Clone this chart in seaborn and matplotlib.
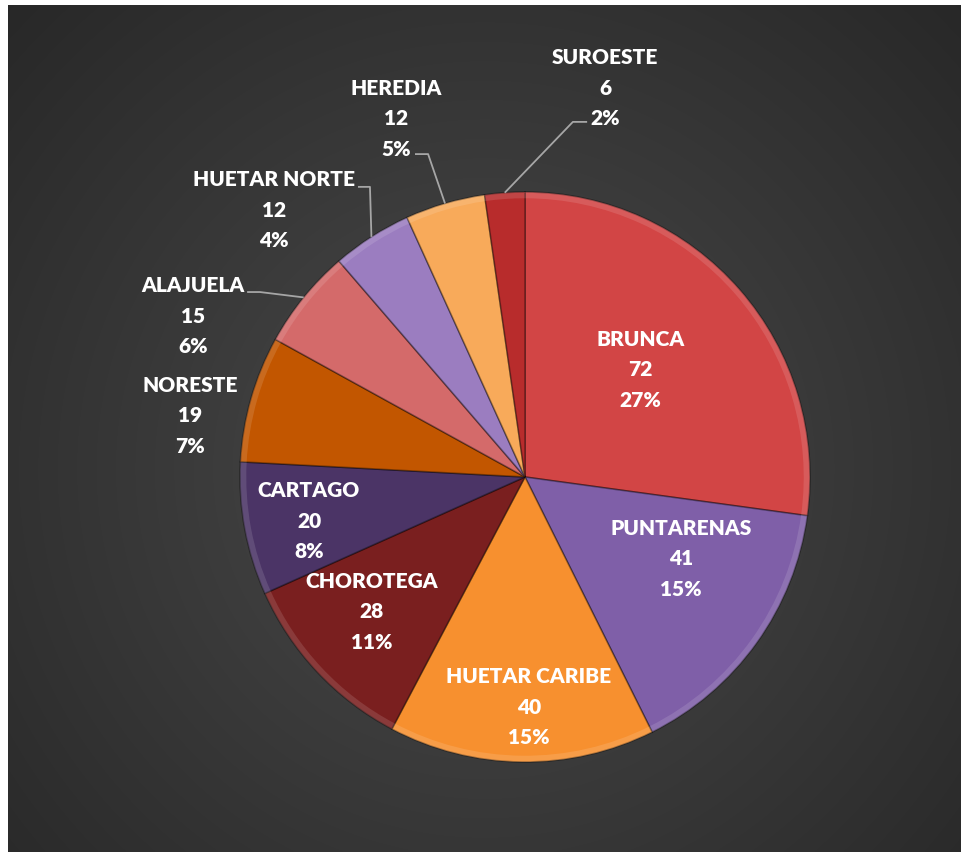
import numpy as np
import matplotlib
matplotlib.use("Agg")
import matplotlib.pyplot as plt
import seaborn as sns

# data (clockwise from 12 o'clock)
regions = ["BRUNCA", "PUNTARENAS", "HUETAR CARIBE", "CHOROTEGA", "CARTAGO",
           "NORESTE", "ALAJUELA", "HUETAR NORTE", "HEREDIA", "SUROESTE"]
counts = [72, 41, 40, 28, 20, 19, 15, 12, 12, 6]
pct_labels = ["27%", "15%", "15%", "11%", "8%", "7%", "6%", "4%", "5%", "2%"]
slice_colors = ["#D24545", "#7F5FA8", "#F7902F", "#7A1F1F", "#4B3466",
                "#C25600", "#D46A6A", "#9B7DC0", "#F8AA5A", "#B82C2C"]

sns.set_theme(style="white")
plt.rcParams['font.family'] = ['Lato', 'DejaVu Sans']

W, H = 962, 853
cx, cy, R = 525, 478, 285   # pie centre / radius in pixels (top origin)

fig = plt.figure(figsize=(W / 100, H / 100), dpi=100)
fig.patch.set_facecolor("white")
ax = fig.add_axes([0, 0, 1, 1])
ax.set_xlim(-cx / R, (W - cx) / R)
ax.set_ylim(-(H - cy) / R, cy / R)
ax.set_aspect("equal")
ax.axis("off")

# dark radial-gradient chart area
gx, gy = np.meshgrid(np.linspace(8, W, 480), np.linspace(6, H, 420))
d = np.sqrt((gx - 485) ** 2 + (gy - 470) ** 2) / 720
d = np.clip(d, 0, 1)
inner = np.array([0x4a, 0x4a, 0x4a]) / 255
outer = np.array([0x25, 0x25, 0x25]) / 255
img = inner[None, None, :] * (1 - d[..., None]) + outer[None, None, :] * d[..., None]
ax.imshow(img, extent=[(8 - cx) / R, (W - cx) / R, -(H - cy) / R, (cy - 6) / R],
          origin="upper", zorder=0, interpolation="bilinear")

palette = sns.color_palette(slice_colors)
wedges, _ = ax.pie(counts, colors=palette, startangle=90, counterclock=False,
                   radius=1.0, center=(0, 0), frame=True,
                   wedgeprops=dict(edgecolor=(0, 0, 0, 0.35), linewidth=1.2))
for w in wedges:
    w.set_zorder(2)
# light rim to mimic the bevel
for w in wedges:
    rim = matplotlib.patches.Wedge((0, 0), 1.0, w.theta1, w.theta2, width=0.022,
                                   facecolor=(1, 1, 1, 0.12), edgecolor="none", zorder=3)
    ax.add_patch(rim)
ax.set_xlim(-cx / R, (W - cx) / R)
ax.set_ylim(-(H - cy) / R, cy / R)
ax.axis("off")

# label block centres, relative to pie centre in radius units
label_pos = [(0.404, 0.379), (0.547, -0.284), (0.014, -0.804), (-0.537, -0.470),
             (-0.758, -0.151), (-1.175, 0.218), (-1.165, 0.568), (-0.881, 0.940),
             (-0.453, 1.260), (0.281, 1.368)]
for name, n, p, (lx, ly) in zip(regions, counts, pct_labels, label_pos):
    ax.text(lx, ly, f"{name}\n{n}\n{p}", ha="center", va="center", color="white",
            fontsize=15, fontweight="heavy", linespacing=1.7, zorder=5)

# leader lines for the outside labels: (text end, elbow)
leaders = {"ALAJUELA": ((-0.975, 0.649), (-0.930, 0.649)),
           "HUETAR NORTE": ((-0.586, 1.018), (-0.544, 1.018)),
           "HEREDIA": ((-0.386, 1.133), (-0.340, 1.133)),
           "SUROESTE": ((0.218, 1.246), (0.168, 1.246))}
for w, name in zip(wedges, regions):
    if name in leaders:
        mid = np.deg2rad((w.theta1 + w.theta2) / 2)
        (x0, y0), (x1, y1) = leaders[name]
        ax.plot([x0, x1, np.cos(mid)], [y0, y1, np.sin(mid)],
                color="#A6A6A6", lw=1.3, zorder=4, solid_capstyle="butt")

fig.savefig("out.png", dpi=100, facecolor=fig.get_facecolor())
